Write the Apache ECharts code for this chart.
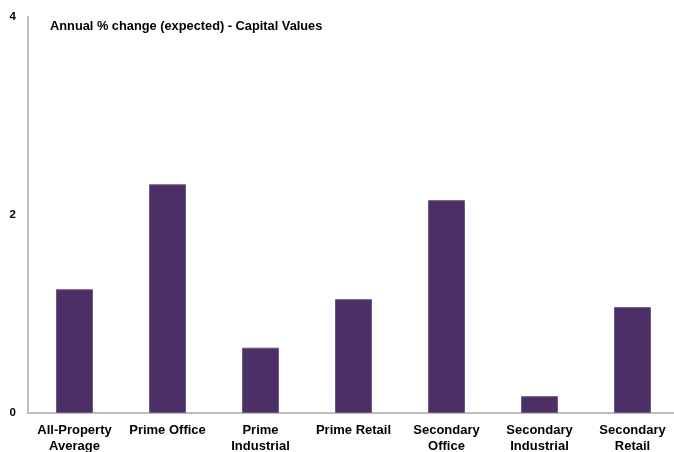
<!DOCTYPE html>
<html>
<head>
<meta charset="utf-8">
<script src="https://cdn.jsdelivr.net/npm/echarts@6/dist/echarts.min.js"></script>
<style>
  html, body { margin: 0; padding: 0; background: #fff; }
  #chart { width: 674px; height: 452px; }
</style>
</head>
<body>
<div id="chart"></div>
<script>
// Expected annual % change in capital values by property segment
const categories = [
  'All-Property\nAverage', 'Prime Office', 'Prime\nIndustrial', 'Prime Retail',
  'Secondary\nOffice', 'Secondary\nIndustrial', 'Secondary\nRetail'
];
const capitalValues = [1.25, 2.31, 0.66, 1.15, 2.15, 0.17, 1.07];
const titleText = 'Annual % change (expected) - Capital Values';

const chart = echarts.init(document.getElementById('chart'));
chart.setOption({
  animation: false,
  title: {
    text: titleText,
    left: 50,
    top: 20,
    padding: 0,
    textStyle: { fontFamily: 'Liberation Sans, Arial', fontWeight: 'bold', fontSize: 12.8, color: '#000' }
  },
  grid: { left: 28, top: 17, width: 651, height: 396, outerBoundsMode: 'none', containLabel: false },
  xAxis: {
    type: 'category',
    data: categories,
    axisLine: { lineStyle: { color: '#bdbdbd', width: 2 } },
    axisTick: { show: false },
    axisLabel: {
      interval: 0,
      margin: 10,
      lineHeight: 15.5,
      fontFamily: 'Liberation Sans, Arial',
      fontWeight: 'bold',
      fontSize: 13,
      color: '#000'
    }
  },
  yAxis: {
    type: 'value',
    min: 0,
    max: 4,
    interval: 2,
    splitLine: { show: false },
    axisLine: { show: true, lineStyle: { color: '#bdbdbd', width: 2 } },
    axisTick: { show: false },
    axisLabel: {
      margin: 12,
      fontFamily: 'Liberation Sans, Arial',
      fontWeight: 'bold',
      fontSize: 11.5,
      color: '#000'
    }
  },
  series: [{
    type: 'bar',
    data: capitalValues,
    barWidth: 37,
    itemStyle: { color: '#4c2f67', borderColor: '#6e5887', borderWidth: 1 }
  }]
});
</script>
</body>
</html>
